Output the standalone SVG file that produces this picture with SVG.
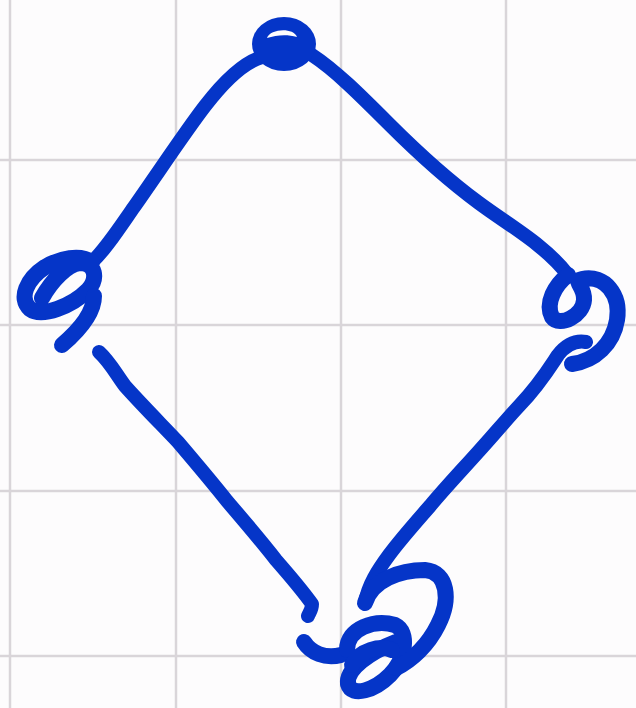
<svg xmlns="http://www.w3.org/2000/svg" width="636" height="708" viewBox="0 0 636 708">
<style>
.grid{stroke:#d9d5d9;stroke-width:2.5;fill:none}
.ink{stroke:#0535c8;fill:none;stroke-linecap:round;stroke-linejoin:round}
.edge{stroke-width:14}
.node{stroke-width:16}
</style>
<rect width="636" height="708" fill="#fdfcfd"/>
<g id="grid">
<path class="grid" d="M10,0V708M176,0V708M341,0V708M506,0V708M0,160H636M0,325H636M0,491H636M0,656H636"/>
</g>
<g id="connectors">
<path class="ink edge" d="M262,57 C245,62 225,80 205,106 C185,132 160,170 134,207 C118,230 105,250 92,262"/>
<path class="ink edge" d="M312,55 C335,70 360,95 389,124 C415,150 445,178 479,203 C510,226 545,245 568,275"/>
<path class="ink edge" d="M99,352 C110,362 116,374 125,386 C142,405 160,423 178,442 C195,462 212,482 227,501 C245,522 262,542 276,560 C290,576 302,590 312,604 C312,610 309,613 308,616"/>
<path class="ink edge" d="M586,342 C575,340 566,345 558,355 C550,367 540,384 519,406 C505,421 492,437 479,451 C462,470 445,488 430,506 C415,523 400,540 389,555 C378,570 368,585 365,603"/>
</g>
<g id="node-top">
<ellipse cx="284" cy="44" rx="32" ry="27" fill="#0535c8"/>
<path d="M267,38 C270,29 293,27 297,37 C287,34 276,35 267,38 Z" fill="#fdfcfd"/>
</g>
<g id="node-left">
<path class="ink node" d="M92,262 C80,254 60,258 45,267 C27,279 18,298 30,309 C42,318 72,306 88,290 C98,279 96,263 80,263 C68,264 52,280 42,298"/>
<path class="ink node" d="M94,296 C94,315 76,333 62,345"/>
</g>
<g id="node-right">
<path class="ink node" d="M568,275 C555,285 545,303 552,317 C560,328 583,315 584,300 C585,286 572,281 582,279 C605,274 621,295 617,320 C613,344 595,361 572,364"/>
</g>
<g id="node-bottom">
<path class="ink node" d="M304,642 C311,653 325,659 341,655"/>
<path class="ink node" d="M347,650 C347,628 375,619 395,625 C410,632 405,660 390,675 C375,690 352,698 348,684 C346,669 370,652 396,642"/>
<path class="ink node" d="M352,665 C360,650 380,645 392,650"/>
<path class="ink node" d="M365,603 C372,580 400,570 425,570 C448,572 451,600 438,625 C428,645 412,660 396,668"/>
</g>
</svg>
